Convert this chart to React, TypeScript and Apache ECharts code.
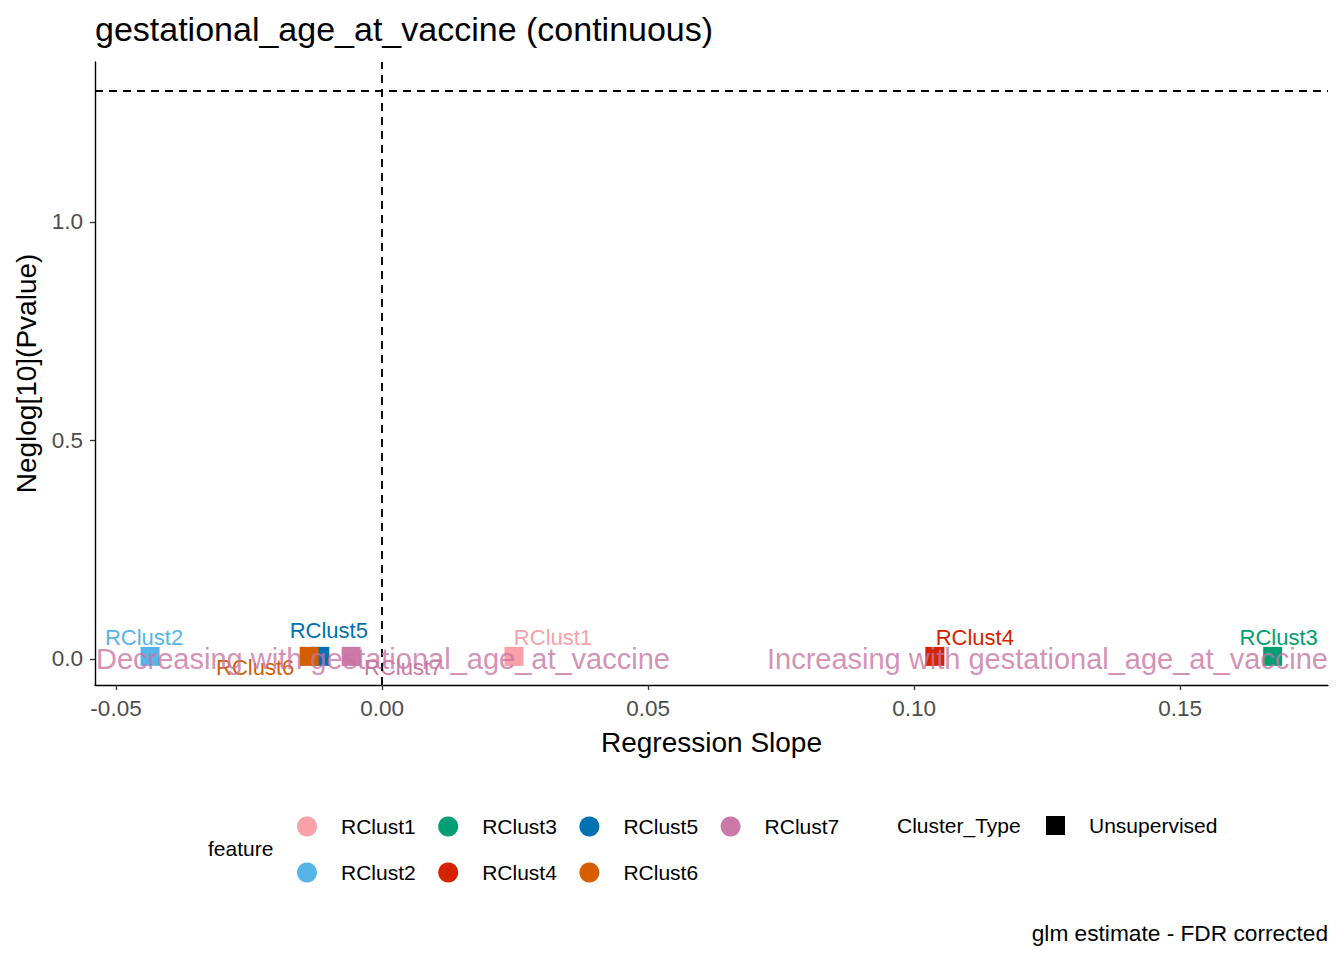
import React, { useEffect, useRef } from "react";
import * as echarts from "echarts";

const FEATURES = ["RClust1", "RClust2", "RClust3", "RClust4", "RClust5", "RClust6", "RClust7"];
const SLOPES = [0.0248, -0.0436, 0.1674, 0.1039, -0.0117, -0.0137, -0.0058];
const NEGLOG_P = [0.006, 0.006, 0.006, 0.006, 0.006, 0.006, 0.006];
const COLORS = ["#F8A1A8", "#56B4E9", "#009E73", "#D52200", "#0072B2", "#D55E00", "#CC79A7"];
const LABEL_OFFSETS: [number, number][] = [
  [39, -19], [-6, -19], [6, -19], [40, -19], [9, -26], [-54, 11], [52, 11],
];
const X_TICKS = [-0.05, 0, 0.05, 0.1, 0.15];
const Y_TICKS = [0, 0.5, 1.0];
const X_MIN = -0.05395;
const X_MAX = 0.1778;
const Y_MIN = -0.0595;
const Y_MAX = 1.366;
const P_THRESHOLD = -Math.log10(0.05);
const ROW1 = ["RClust1", "RClust3", "RClust5", "RClust7"];
const ROW2 = ["RClust2", "RClust4", "RClust6"];

const FONT = "'Liberation Sans', Arial, sans-serif";

export default function App() {
  const ref = useRef<HTMLDivElement>(null);
  useEffect(() => {
    document.body.style.margin = "0";
    const chart = echarts.init(ref.current!, undefined, { renderer: "svg" });
    const legendText = {
      fontSize: 21,
      color: "#000",
      fontFamily: FONT,
      padding: [0, 0, 0, 19],
      width: 72,
    };
    const featureSeries = FEATURES.map((f, i) => ({
      name: f,
      type: "scatter",
      symbol: "rect",
      symbolSize: 19,
      itemStyle: { color: COLORS[i], opacity: 1 },
      data: [[SLOPES[i], NEGLOG_P[i]]],
      z: 2,
      label: {
        show: true,
        position: "inside",
        offset: LABEL_OFFSETS[i],
        formatter: f,
        color: COLORS[i],
        fontSize: 22,
        fontFamily: FONT,
      },
      emphasis: { disabled: true },
    }));
    const option: any = {
      animation: false,
      backgroundColor: "#fff",
      title: [
        {
          text: "gestational_age_at_vaccine (continuous)",
          left: 95,
          top: 12,
          padding: 0,
          textStyle: { fontSize: 34, fontWeight: "normal", color: "#000", fontFamily: FONT },
        },
        {
          text: "glm estimate - FDR corrected",
          right: 16,
          top: 921,
          padding: 0,
          textStyle: { fontSize: 22.7, fontWeight: "normal", color: "#000", fontFamily: FONT },
        },
        {
          text: "feature",
          left: 208,
          top: 838,
          padding: 0,
          textStyle: { fontSize: 21, fontWeight: "normal", color: "#000", fontFamily: FONT },
        },
        {
          text: "Cluster_Type",
          left: 897,
          top: 815,
          padding: 0,
          textStyle: { fontSize: 21, fontWeight: "normal", color: "#000", fontFamily: FONT },
        },
      ],
      legend: [
        {
          data: ROW1,
          left: 297,
          top: 816,
          padding: 0,
          icon: "circle",
          itemWidth: 20,
          itemHeight: 20,
          itemGap: 22.5,
          selectedMode: false,
          textStyle: legendText,
        },
        {
          data: ROW2,
          left: 297,
          top: 862,
          padding: 0,
          icon: "circle",
          itemWidth: 20,
          itemHeight: 20,
          itemGap: 22.5,
          selectedMode: false,
          textStyle: legendText,
        },
        {
          data: [{ name: "Unsupervised", itemStyle: { color: "#000", opacity: 1 } }],
          left: 1046,
          top: 815,
          padding: 0,
          icon: "rect",
          itemWidth: 19,
          itemHeight: 19,
          selectedMode: false,
          inactiveColor: "#000",
          textStyle: { ...legendText, width: undefined },
        },
      ],
      grid: { left: 95, right: 16, top: 62, bottom: 275, containLabel: false },
      xAxis: {
        type: "value",
        min: X_MIN,
        max: X_MAX,
        name: "Regression Slope",
        nameLocation: "middle",
        nameGap: 43,
        nameTextStyle: { fontSize: 28, color: "#000", fontFamily: FONT },
        splitLine: { show: false },
        axisLine: { show: true, onZero: false, lineStyle: { color: "#000", width: 1.4 } },
        axisTick: { show: true, length: 5, customValues: X_TICKS, lineStyle: { color: "#333", width: 1.3 } },
        axisLabel: {
          customValues: X_TICKS,
          formatter: (v: number) => v.toFixed(2),
          fontSize: 22.5,
          color: "#4D4D4D",
          fontFamily: FONT,
          margin: 12,
        },
      },
      yAxis: {
        type: "value",
        min: Y_MIN,
        max: Y_MAX,
        name: "Neglog[10](Pvalue)",
        nameLocation: "middle",
        nameGap: 53,
        nameTextStyle: { fontSize: 28, color: "#000", fontFamily: FONT },
        splitLine: { show: false },
        axisLine: { show: true, onZero: false, lineStyle: { color: "#000", width: 1.4 } },
        axisTick: { show: true, length: 5, customValues: Y_TICKS, lineStyle: { color: "#333", width: 1.3 } },
        axisLabel: {
          customValues: Y_TICKS,
          formatter: (v: number) => v.toFixed(1),
          fontSize: 22.5,
          color: "#4D4D4D",
          fontFamily: FONT,
          margin: 12,
        },
      },
      series: [
        ...featureSeries,
        {
          name: "Unsupervised",
          type: "scatter",
          symbol: "rect",
          color: "#000",
          itemStyle: { color: "#000", opacity: 1 },
          data: [],
        },
        {
          name: "annotations",
          type: "scatter",
          symbolSize: 0,
          z: 10,
          silent: true,
          data: [
            {
              value: [X_MIN, 0],
              label: { position: "right", distance: 1 },
            },
            {
              value: [X_MAX, 0],
              label: { position: "left", distance: 0 },
            },
          ],
          label: {
            show: true,
            formatter: (p: any) =>
              p.dataIndex === 0
                ? "Decreasing with gestational_age_at_vaccine"
                : "Increasing with gestational_age_at_vaccine",
            color: "#C874A3",
            fontSize: 29,
            fontFamily: FONT,
          },
          markLine: {
            silent: true,
            symbol: "none",
            label: { show: false },
            lineStyle: { color: "#000", width: 1.9, type: [8, 6] },
            data: [{ xAxis: 0 }, { yAxis: P_THRESHOLD }],
          },
        },
      ],
    };
    chart.setOption(option);
    return () => chart.dispose();
  }, []);
  return <div ref={ref} style={{ width: 1344, height: 960 }} />;
}
